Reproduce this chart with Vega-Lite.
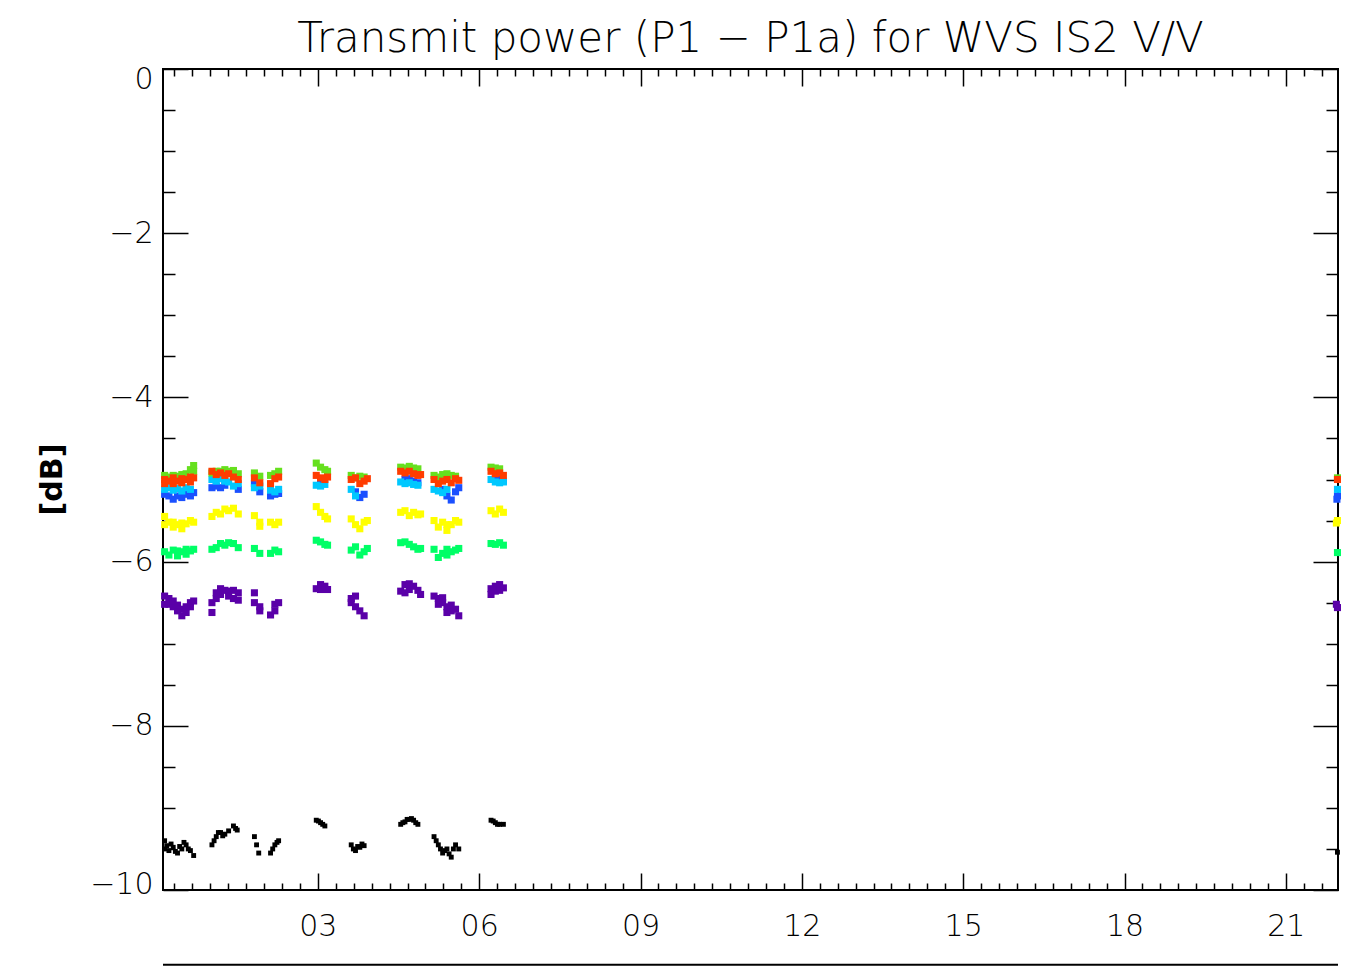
{
  "$schema": "https://vega.github.io/schema/vega-lite/v6.json",
  "width": 1175,
  "height": 821,
  "autosize": "none",
  "padding": {"left": 163, "top": 69, "right": 13, "bottom": 77},
  "background": "white",
  "config": {
    "view": {"stroke": "black", "strokeWidth": 2},
    "axis": {"grid": false, "domain": false, "tickColor": "black", "tickWidth": 1.5, "labelColor": "black", "labelFont": "DejaVu Sans", "labelFontWeight": 200, "labelFontSize": 30, "titleColor": "black"}
  },
  "title": {"text": "Transmit power (P1 − P1a) for WVS IS2 V/V", "font": "DejaVu Sans", "fontWeight": 200, "fontSize": 42, "color": "black", "anchor": "middle", "baseline": "alphabetic", "offset": -30},
  "data": {"values": [
    {"t":0.15,"s":"p","v":-6.42},{"t":0.15,"s":"p","v":-6.52},{"t":0.23,"s":"p","v":-6.45},{"t":0.23,"s":"p","v":-6.52},{"t":0.31,"s":"p","v":-6.55},{"t":0.31,"s":"p","v":-6.48},{"t":0.39,"s":"p","v":-6.6},{"t":0.39,"s":"p","v":-6.53},{"t":0.47,"s":"p","v":-6.66},{"t":0.47,"s":"p","v":-6.58},{"t":0.55,"s":"p","v":-6.62},{"t":0.55,"s":"p","v":-6.55},{"t":0.63,"s":"p","v":-6.55},{"t":0.63,"s":"p","v":-6.5},{"t":0.69,"s":"p","v":-6.48},
    {"t":1.03,"s":"p","v":-6.62},{"t":1.03,"s":"p","v":-6.5},{"t":1.11,"s":"p","v":-6.45},{"t":1.11,"s":"p","v":-6.38},{"t":1.19,"s":"p","v":-6.33},{"t":1.19,"s":"p","v":-6.4},{"t":1.27,"s":"p","v":-6.35},{"t":1.34,"s":"p","v":-6.36},{"t":1.34,"s":"p","v":-6.42},
    {"t":1.43,"s":"p","v":-6.35},{"t":1.43,"s":"p","v":-6.45},{"t":1.52,"s":"p","v":-6.38},{"t":1.52,"s":"p","v":-6.47},
    {"t":1.82,"s":"p","v":-6.38},{"t":1.82,"s":"p","v":-6.5},{"t":1.92,"s":"p","v":-6.55},{"t":1.92,"s":"p","v":-6.6},
    {"t":2.12,"s":"p","v":-6.65},{"t":2.2,"s":"p","v":-6.6},{"t":2.2,"s":"p","v":-6.52},{"t":2.27,"s":"p","v":-6.5},
    {"t":2.97,"s":"p","v":-6.33},{"t":3.05,"s":"p","v":-6.28},{"t":3.05,"s":"p","v":-6.34},{"t":3.13,"s":"p","v":-6.3},{"t":3.18,"s":"p","v":-6.34},
    {"t":3.62,"s":"p","v":-6.5},{"t":3.62,"s":"p","v":-6.45},{"t":3.7,"s":"p","v":-6.42},{"t":3.7,"s":"p","v":-6.55},{"t":3.78,"s":"p","v":-6.6},{"t":3.86,"s":"p","v":-6.66},
    {"t":4.54,"s":"p","v":-6.36},{"t":4.62,"s":"p","v":-6.28},{"t":4.62,"s":"p","v":-6.38},{"t":4.7,"s":"p","v":-6.27},{"t":4.7,"s":"p","v":-6.34},{"t":4.78,"s":"p","v":-6.3},{"t":4.86,"s":"p","v":-6.35},{"t":4.91,"s":"p","v":-6.4},
    {"t":5.16,"s":"p","v":-6.42},{"t":5.24,"s":"p","v":-6.45},{"t":5.24,"s":"p","v":-6.52},{"t":5.32,"s":"p","v":-6.5},{"t":5.32,"s":"p","v":-6.44},{"t":5.4,"s":"p","v":-6.55},{"t":5.4,"s":"p","v":-6.62},{"t":5.48,"s":"p","v":-6.6},{"t":5.48,"s":"p","v":-6.53},{"t":5.56,"s":"p","v":-6.58},{"t":5.62,"s":"p","v":-6.66},
    {"t":6.22,"s":"p","v":-6.33},{"t":6.22,"s":"p","v":-6.4},{"t":6.3,"s":"p","v":-6.3},{"t":6.3,"s":"p","v":-6.36},{"t":6.38,"s":"p","v":-6.28},{"t":6.38,"s":"p","v":-6.35},{"t":6.45,"s":"p","v":-6.32},
    {"t":21.94,"s":"p","v":-6.52},{"t":21.96,"s":"p","v":-6.56},
    {"t":0.15,"s":"s","v":-5.88},{"t":0.23,"s":"s","v":-5.92},{"t":0.31,"s":"s","v":-5.86},{"t":0.39,"s":"s","v":-5.93},{"t":0.39,"s":"s","v":-5.87},{"t":0.47,"s":"s","v":-5.88},{"t":0.55,"s":"s","v":-5.91},{"t":0.55,"s":"s","v":-5.85},{"t":0.63,"s":"s","v":-5.87},{"t":0.69,"s":"s","v":-5.85},
    {"t":1.03,"s":"s","v":-5.85},{"t":1.11,"s":"s","v":-5.83},{"t":1.19,"s":"s","v":-5.78},{"t":1.27,"s":"s","v":-5.8},{"t":1.34,"s":"s","v":-5.77},
    {"t":1.43,"s":"s","v":-5.78},{"t":1.52,"s":"s","v":-5.83},
    {"t":1.82,"s":"s","v":-5.84},{"t":1.92,"s":"s","v":-5.9},
    {"t":2.12,"s":"s","v":-5.9},{"t":2.2,"s":"s","v":-5.86},{"t":2.27,"s":"s","v":-5.88},
    {"t":2.97,"s":"s","v":-5.74},{"t":3.05,"s":"s","v":-5.76},{"t":3.13,"s":"s","v":-5.79},{"t":3.18,"s":"s","v":-5.8},
    {"t":3.62,"s":"s","v":-5.86},{"t":3.7,"s":"s","v":-5.82},{"t":3.78,"s":"s","v":-5.92},{"t":3.86,"s":"s","v":-5.88},{"t":3.92,"s":"s","v":-5.84},
    {"t":4.54,"s":"s","v":-5.77},{"t":4.62,"s":"s","v":-5.76},{"t":4.7,"s":"s","v":-5.79},{"t":4.78,"s":"s","v":-5.82},{"t":4.86,"s":"s","v":-5.85},{"t":4.91,"s":"s","v":-5.84},
    {"t":5.16,"s":"s","v":-5.85},{"t":5.24,"s":"s","v":-5.95},{"t":5.32,"s":"s","v":-5.9},{"t":5.4,"s":"s","v":-5.92},{"t":5.4,"s":"s","v":-5.85},{"t":5.48,"s":"s","v":-5.88},{"t":5.56,"s":"s","v":-5.86},{"t":5.62,"s":"s","v":-5.84},
    {"t":6.22,"s":"s","v":-5.78},{"t":6.3,"s":"s","v":-5.79},{"t":6.38,"s":"s","v":-5.77},{"t":6.45,"s":"s","v":-5.8},
    {"t":21.96,"s":"s","v":-5.89},
    {"t":0.15,"s":"y","v":-5.45},{"t":0.15,"s":"y","v":-5.55},{"t":0.23,"s":"y","v":-5.52},{"t":0.31,"s":"y","v":-5.58},{"t":0.31,"s":"y","v":-5.52},{"t":0.39,"s":"y","v":-5.55},{"t":0.47,"s":"y","v":-5.6},{"t":0.47,"s":"y","v":-5.53},{"t":0.55,"s":"y","v":-5.54},{"t":0.63,"s":"y","v":-5.5},{"t":0.69,"s":"y","v":-5.52},
    {"t":1.03,"s":"y","v":-5.45},{"t":1.11,"s":"y","v":-5.4},{"t":1.19,"s":"y","v":-5.42},{"t":1.27,"s":"y","v":-5.36},{"t":1.34,"s":"y","v":-5.38},
    {"t":1.43,"s":"y","v":-5.35},{"t":1.52,"s":"y","v":-5.42},
    {"t":1.82,"s":"y","v":-5.44},{"t":1.92,"s":"y","v":-5.52},{"t":1.92,"s":"y","v":-5.57},
    {"t":2.12,"s":"y","v":-5.52},{"t":2.2,"s":"y","v":-5.55},{"t":2.27,"s":"y","v":-5.52},
    {"t":2.97,"s":"y","v":-5.33},{"t":3.05,"s":"y","v":-5.4},{"t":3.13,"s":"y","v":-5.45},{"t":3.18,"s":"y","v":-5.48},
    {"t":3.62,"s":"y","v":-5.48},{"t":3.7,"s":"y","v":-5.55},{"t":3.78,"s":"y","v":-5.6},{"t":3.86,"s":"y","v":-5.52},{"t":3.92,"s":"y","v":-5.5},
    {"t":4.54,"s":"y","v":-5.4},{"t":4.62,"s":"y","v":-5.38},{"t":4.7,"s":"y","v":-5.44},{"t":4.78,"s":"y","v":-5.4},{"t":4.86,"s":"y","v":-5.43},{"t":4.91,"s":"y","v":-5.42},
    {"t":5.16,"s":"y","v":-5.5},{"t":5.24,"s":"y","v":-5.58},{"t":5.32,"s":"y","v":-5.52},{"t":5.4,"s":"y","v":-5.62},{"t":5.4,"s":"y","v":-5.55},{"t":5.48,"s":"y","v":-5.55},{"t":5.56,"s":"y","v":-5.5},{"t":5.62,"s":"y","v":-5.52},
    {"t":6.22,"s":"y","v":-5.38},{"t":6.3,"s":"y","v":-5.42},{"t":6.38,"s":"y","v":-5.36},{"t":6.45,"s":"y","v":-5.4},
    {"t":21.94,"s":"y","v":-5.53},{"t":21.96,"s":"y","v":-5.5},
    {"t":0.15,"s":"b","v":-5.18},{"t":0.23,"s":"b","v":-5.2},{"t":0.31,"s":"b","v":-5.24},{"t":0.39,"s":"b","v":-5.2},{"t":0.47,"s":"b","v":-5.22},{"t":0.55,"s":"b","v":-5.18},{"t":0.63,"s":"b","v":-5.2},{"t":0.69,"s":"b","v":-5.16},
    {"t":1.03,"s":"b","v":-5.1},{"t":1.11,"s":"b","v":-5.08},{"t":1.19,"s":"b","v":-5.1},{"t":1.27,"s":"b","v":-5.07},
    {"t":1.52,"s":"b","v":-5.12},
    {"t":1.82,"s":"b","v":-5.05},{"t":1.92,"s":"b","v":-5.15},
    {"t":2.12,"s":"b","v":-5.2},{"t":2.2,"s":"b","v":-5.18},{"t":2.27,"s":"b","v":-5.17},
    {"t":3.05,"s":"b","v":-5.02},
    {"t":3.7,"s":"b","v":-5.15},{"t":3.78,"s":"b","v":-5.22},{"t":3.86,"s":"b","v":-5.18},
    {"t":4.62,"s":"b","v":-5.0},{"t":4.7,"s":"b","v":-4.99},{"t":4.78,"s":"b","v":-5.02},{"t":4.86,"s":"b","v":-5.04},
    {"t":5.32,"s":"b","v":-5.12},{"t":5.4,"s":"b","v":-5.2},{"t":5.48,"s":"b","v":-5.25},{"t":5.56,"s":"b","v":-5.15},{"t":5.62,"s":"b","v":-5.1},
    {"t":6.3,"s":"b","v":-4.99},{"t":6.38,"s":"b","v":-5.0},{"t":6.45,"s":"b","v":-5.02},
    {"t":21.96,"s":"b","v":-5.2},{"t":21.95,"s":"b","v":-5.24},
    {"t":0.15,"s":"c","v":-5.12},{"t":0.23,"s":"c","v":-5.1},{"t":0.31,"s":"c","v":-5.13},{"t":0.39,"s":"c","v":-5.11},{"t":0.47,"s":"c","v":-5.14},{"t":0.55,"s":"c","v":-5.1},{"t":0.63,"s":"c","v":-5.12},
    {"t":1.03,"s":"c","v":-5.0},{"t":1.11,"s":"c","v":-5.02},{"t":1.19,"s":"c","v":-4.99},{"t":1.27,"s":"c","v":-5.02},{"t":1.34,"s":"c","v":-5.03},
    {"t":1.43,"s":"c","v":-5.08},{"t":1.52,"s":"c","v":-5.05},
    {"t":1.82,"s":"c","v":-5.1},{"t":1.92,"s":"c","v":-5.08},
    {"t":2.12,"s":"c","v":-5.13},{"t":2.2,"s":"c","v":-5.15},{"t":2.27,"s":"c","v":-5.12},
    {"t":2.97,"s":"c","v":-5.07},{"t":3.05,"s":"c","v":-5.08},{"t":3.13,"s":"c","v":-5.06},
    {"t":3.62,"s":"c","v":-5.12},{"t":3.7,"s":"c","v":-5.2},
    {"t":4.54,"s":"c","v":-5.03},{"t":4.62,"s":"c","v":-5.05},{"t":4.7,"s":"c","v":-5.04},{"t":4.78,"s":"c","v":-5.06},{"t":4.86,"s":"c","v":-5.07},
    {"t":5.16,"s":"c","v":-5.12},{"t":5.24,"s":"c","v":-5.14},{"t":5.32,"s":"c","v":-5.16},{"t":5.4,"s":"c","v":-5.12},
    {"t":6.22,"s":"c","v":-5.0},{"t":6.3,"s":"c","v":-5.03},{"t":6.38,"s":"c","v":-5.04},{"t":6.45,"s":"c","v":-5.03},
    {"t":21.96,"s":"c","v":-5.12},
    {"t":0.15,"s":"g","v":-4.95},{"t":0.23,"s":"g","v":-4.97},{"t":0.31,"s":"g","v":-4.95},{"t":0.39,"s":"g","v":-4.96},{"t":0.47,"s":"g","v":-4.94},{"t":0.55,"s":"g","v":-4.93},{"t":0.63,"s":"g","v":-4.88},{"t":0.69,"s":"g","v":-4.83},{"t":0.69,"s":"g","v":-4.9},
    {"t":1.03,"s":"g","v":-4.92},{"t":1.11,"s":"g","v":-4.9},{"t":1.19,"s":"g","v":-4.9},{"t":1.27,"s":"g","v":-4.88},{"t":1.34,"s":"g","v":-4.9},
    {"t":1.43,"s":"g","v":-4.89},{"t":1.52,"s":"g","v":-4.93},
    {"t":1.82,"s":"g","v":-4.92},{"t":1.92,"s":"g","v":-4.96},
    {"t":2.12,"s":"g","v":-4.95},{"t":2.2,"s":"g","v":-4.93},{"t":2.27,"s":"g","v":-4.9},
    {"t":2.97,"s":"g","v":-4.8},{"t":3.05,"s":"g","v":-4.85},{"t":3.13,"s":"g","v":-4.88},{"t":3.18,"s":"g","v":-4.9},
    {"t":3.62,"s":"g","v":-4.95},{"t":3.7,"s":"g","v":-4.98},{"t":3.78,"s":"g","v":-4.96},{"t":3.86,"s":"g","v":-4.97},
    {"t":4.54,"s":"g","v":-4.85},{"t":4.62,"s":"g","v":-4.86},{"t":4.7,"s":"g","v":-4.84},{"t":4.78,"s":"g","v":-4.86},{"t":4.86,"s":"g","v":-4.87},
    {"t":5.16,"s":"g","v":-4.95},{"t":5.24,"s":"g","v":-4.97},{"t":5.32,"s":"g","v":-4.94},{"t":5.4,"s":"g","v":-4.93},{"t":5.48,"s":"g","v":-4.95},{"t":5.56,"s":"g","v":-4.96},
    {"t":6.22,"s":"g","v":-4.85},{"t":6.3,"s":"g","v":-4.86},{"t":6.38,"s":"g","v":-4.87},
    {"t":21.96,"s":"g","v":-4.98},
    {"t":0.15,"s":"r","v":-5.0},{"t":0.15,"s":"r","v":-5.05},{"t":0.23,"s":"r","v":-5.02},{"t":0.31,"s":"r","v":-4.98},{"t":0.31,"s":"r","v":-5.05},{"t":0.39,"s":"r","v":-5.02},{"t":0.47,"s":"r","v":-4.99},{"t":0.47,"s":"r","v":-5.04},{"t":0.55,"s":"r","v":-5.0},{"t":0.63,"s":"r","v":-4.97},{"t":0.63,"s":"r","v":-5.03},{"t":0.69,"s":"r","v":-4.98},
    {"t":1.03,"s":"r","v":-4.9},{"t":1.11,"s":"r","v":-4.94},{"t":1.19,"s":"r","v":-4.92},{"t":1.27,"s":"r","v":-4.95},{"t":1.34,"s":"r","v":-4.93},
    {"t":1.43,"s":"r","v":-4.97},{"t":1.52,"s":"r","v":-5.0},
    {"t":1.82,"s":"r","v":-4.98},{"t":1.92,"s":"r","v":-5.04},
    {"t":2.12,"s":"r","v":-5.05},{"t":2.2,"s":"r","v":-4.99},{"t":2.27,"s":"r","v":-4.97},
    {"t":2.97,"s":"r","v":-4.95},{"t":3.05,"s":"r","v":-4.98},{"t":3.13,"s":"r","v":-5.0},{"t":3.18,"s":"r","v":-4.97},
    {"t":3.62,"s":"r","v":-5.0},{"t":3.7,"s":"r","v":-4.98},{"t":3.78,"s":"r","v":-5.05},{"t":3.86,"s":"r","v":-5.02},{"t":3.92,"s":"r","v":-4.99},
    {"t":4.54,"s":"r","v":-4.9},{"t":4.62,"s":"r","v":-4.92},{"t":4.7,"s":"r","v":-4.9},{"t":4.78,"s":"r","v":-4.93},{"t":4.86,"s":"r","v":-4.95},{"t":4.91,"s":"r","v":-4.94},
    {"t":5.16,"s":"r","v":-5.0},{"t":5.24,"s":"r","v":-5.05},{"t":5.32,"s":"r","v":-5.02},{"t":5.4,"s":"r","v":-5.0},{"t":5.48,"s":"r","v":-5.04},{"t":5.56,"s":"r","v":-4.99},{"t":5.62,"s":"r","v":-5.01},
    {"t":6.22,"s":"r","v":-4.9},{"t":6.3,"s":"r","v":-4.93},{"t":6.38,"s":"r","v":-4.92},{"t":6.45,"s":"r","v":-4.95},
    {"t":21.96,"s":"r","v":-5.0},
    {"t":0.15,"s":"k","v":-9.5},{"t":0.15,"s":"k","v":-9.4},{"t":0.19,"s":"k","v":-9.46},{"t":0.23,"s":"k","v":-9.52},{"t":0.27,"s":"k","v":-9.44},{"t":0.31,"s":"k","v":-9.48},{"t":0.35,"s":"k","v":-9.53},{"t":0.39,"s":"k","v":-9.55},{"t":0.43,"s":"k","v":-9.47},{"t":0.47,"s":"k","v":-9.5},{"t":0.51,"s":"k","v":-9.42},{"t":0.55,"s":"k","v":-9.45},{"t":0.59,"s":"k","v":-9.5},{"t":0.63,"s":"k","v":-9.52},{"t":0.69,"s":"k","v":-9.58},
    {"t":1.03,"s":"k","v":-9.45},{"t":1.07,"s":"k","v":-9.4},{"t":1.11,"s":"k","v":-9.35},{"t":1.15,"s":"k","v":-9.3},{"t":1.19,"s":"k","v":-9.3},{"t":1.23,"s":"k","v":-9.34},{"t":1.27,"s":"k","v":-9.32},{"t":1.34,"s":"k","v":-9.28},
    {"t":1.43,"s":"k","v":-9.22},{"t":1.47,"s":"k","v":-9.25},{"t":1.5,"s":"k","v":-9.27},
    {"t":1.82,"s":"k","v":-9.35},{"t":1.86,"s":"k","v":-9.45},{"t":1.9,"s":"k","v":-9.55},
    {"t":2.12,"s":"k","v":-9.55},{"t":2.16,"s":"k","v":-9.5},{"t":2.2,"s":"k","v":-9.45},{"t":2.24,"s":"k","v":-9.42},{"t":2.27,"s":"k","v":-9.4},
    {"t":2.97,"s":"k","v":-9.15},{"t":3.01,"s":"k","v":-9.16},{"t":3.05,"s":"k","v":-9.18},{"t":3.09,"s":"k","v":-9.2},{"t":3.13,"s":"k","v":-9.22},
    {"t":3.62,"s":"k","v":-9.45},{"t":3.66,"s":"k","v":-9.5},{"t":3.7,"s":"k","v":-9.52},{"t":3.74,"s":"k","v":-9.47},{"t":3.78,"s":"k","v":-9.48},{"t":3.82,"s":"k","v":-9.44},{"t":3.86,"s":"k","v":-9.46},
    {"t":4.54,"s":"k","v":-9.2},{"t":4.58,"s":"k","v":-9.18},{"t":4.62,"s":"k","v":-9.17},{"t":4.66,"s":"k","v":-9.14},{"t":4.7,"s":"k","v":-9.14},{"t":4.74,"s":"k","v":-9.13},{"t":4.78,"s":"k","v":-9.15},{"t":4.82,"s":"k","v":-9.18},{"t":4.86,"s":"k","v":-9.2},
    {"t":5.16,"s":"k","v":-9.35},{"t":5.2,"s":"k","v":-9.4},{"t":5.24,"s":"k","v":-9.45},{"t":5.28,"s":"k","v":-9.5},{"t":5.32,"s":"k","v":-9.55},{"t":5.36,"s":"k","v":-9.52},{"t":5.4,"s":"k","v":-9.5},{"t":5.44,"s":"k","v":-9.56},{"t":5.48,"s":"k","v":-9.6},{"t":5.52,"s":"k","v":-9.5},{"t":5.56,"s":"k","v":-9.45},{"t":5.62,"s":"k","v":-9.5},
    {"t":6.22,"s":"k","v":-9.15},{"t":6.26,"s":"k","v":-9.16},{"t":6.3,"s":"k","v":-9.18},{"t":6.34,"s":"k","v":-9.2},{"t":6.38,"s":"k","v":-9.2},{"t":6.45,"s":"k","v":-9.2},
    {"t":21.96,"s":"k","v":-9.54}
  ]},
  "resolve": {"axis": {"x": "independent", "y": "independent"}},
  "layer": [
    {
      "transform": [{"filter": {"field": "s", "oneOf": ["b", "c", "g", "r"]}}],
      "mark": {"type": "square", "size": 50, "opacity": 1},
      "encoding": {
        "x": {"field": "t", "type": "quantitative", "scale": {"domain": [0.12, 21.97], "nice": false, "zero": false},
              "axis": {"orient": "bottom", "values": [3, 6, 9, 12, 15, 18, 21], "format": "02d", "tickSize": -17, "labelPadding": 38, "title": null}},
        "y": {"field": "v", "type": "quantitative", "scale": {"domain": [-10, 0], "nice": false, "zero": false},
              "axis": {"orient": "left", "values": [-10, -8, -6, -4, -2, 0], "tickSize": -25, "labelPadding": 35,
                       "labelOffset": {"condition": [{"test": "datum.value == 0", "value": 10}, {"test": "datum.value == -10", "value": -6}], "value": 0},
                       "title": "[dB]", "titleFont": "DejaVu Sans", "titleFontWeight": "bold", "titleFontSize": 30, "titleAngle": 270, "titleX": -111, "titleY": 410, "titleAlign": "center", "titleBaseline": "middle"}},
        "color": {"field": "s", "type": "nominal", "legend": null,
                  "scale": {"domain": ["r", "g", "c", "b", "y", "s", "p"], "range": ["#ff3c00", "#66e01e", "#00c8ff", "#1a50ff", "#ffff00", "#00ff66", "#5a00a8"]}}
      }
    },
    {
      "transform": [{"filter": {"field": "s", "oneOf": ["y", "s", "p"]}}],
      "mark": {"type": "square", "size": 50, "opacity": 1},
      "encoding": {
        "x": {"field": "t", "type": "quantitative",
              "axis": {"orient": "bottom", "values": [0.3333, 0.6667, 1, 1.3333, 1.6667, 2, 2.3333, 2.6667, 3.3333, 3.6667, 4, 4.3333, 4.6667, 5, 5.3333, 5.6667, 6.3333, 6.6667, 7, 7.3333, 7.6667, 8, 8.3333, 8.6667, 9.3333, 9.6667, 10, 10.3333, 10.6667, 11, 11.3333, 11.6667, 12.3333, 12.6667, 13, 13.3333, 13.6667, 14, 14.3333, 14.6667, 15.3333, 15.6667, 16, 16.3333, 16.6667, 17, 17.3333, 17.6667, 18.3333, 18.6667, 19, 19.3333, 19.6667, 20, 20.3333, 20.6667, 21.3333, 21.6667], "tickSize": -7, "labels": false, "title": null}},
        "y": {"field": "v", "type": "quantitative",
              "axis": {"orient": "left", "values": [-9.5, -9, -8.5, -7.5, -7, -6.5, -5.5, -5, -4.5, -3.5, -3, -2.5, -1.5, -1, -0.5], "tickSize": -12, "labels": false, "title": null}},
        "color": {"field": "s", "type": "nominal", "legend": null}
      }
    },
    {
      "transform": [{"filter": {"field": "s", "equal": "k"}}],
      "mark": {"type": "square", "size": 24, "color": "black", "opacity": 1},
      "encoding": {
        "x": {"field": "t", "type": "quantitative",
              "axis": {"orient": "top", "values": [3, 6, 9, 12, 15, 18, 21], "tickSize": -17, "labels": false, "title": null}},
        "y": {"field": "v", "type": "quantitative",
              "axis": {"orient": "right", "values": [-10, -8, -6, -4, -2, 0], "tickSize": -25, "labels": false, "title": null}}
      }
    },
    {
      "data": {"values": [{"t": 0.12, "t2": 21.97, "v": -10.91}]},
      "mark": {"type": "rule", "color": "black", "strokeWidth": 2, "clip": false},
      "encoding": {
        "x": {"field": "t", "type": "quantitative",
              "axis": {"orient": "top", "values": [0.3333, 0.6667, 1, 1.3333, 1.6667, 2, 2.3333, 2.6667, 3.3333, 3.6667, 4, 4.3333, 4.6667, 5, 5.3333, 5.6667, 6.3333, 6.6667, 7, 7.3333, 7.6667, 8, 8.3333, 8.6667, 9.3333, 9.6667, 10, 10.3333, 10.6667, 11, 11.3333, 11.6667, 12.3333, 12.6667, 13, 13.3333, 13.6667, 14, 14.3333, 14.6667, 15.3333, 15.6667, 16, 16.3333, 16.6667, 17, 17.3333, 17.6667, 18.3333, 18.6667, 19, 19.3333, 19.6667, 20, 20.3333, 20.6667, 21.3333, 21.6667], "tickSize": -7, "labels": false, "title": null}},
        "x2": {"field": "t2"},
        "y": {"field": "v", "type": "quantitative",
              "axis": {"orient": "right", "values": [-9.5, -9, -8.5, -7.5, -7, -6.5, -5.5, -5, -4.5, -3.5, -3, -2.5, -1.5, -1, -0.5], "tickSize": -12, "labels": false, "title": null}}
      }
    }
  ]
}
